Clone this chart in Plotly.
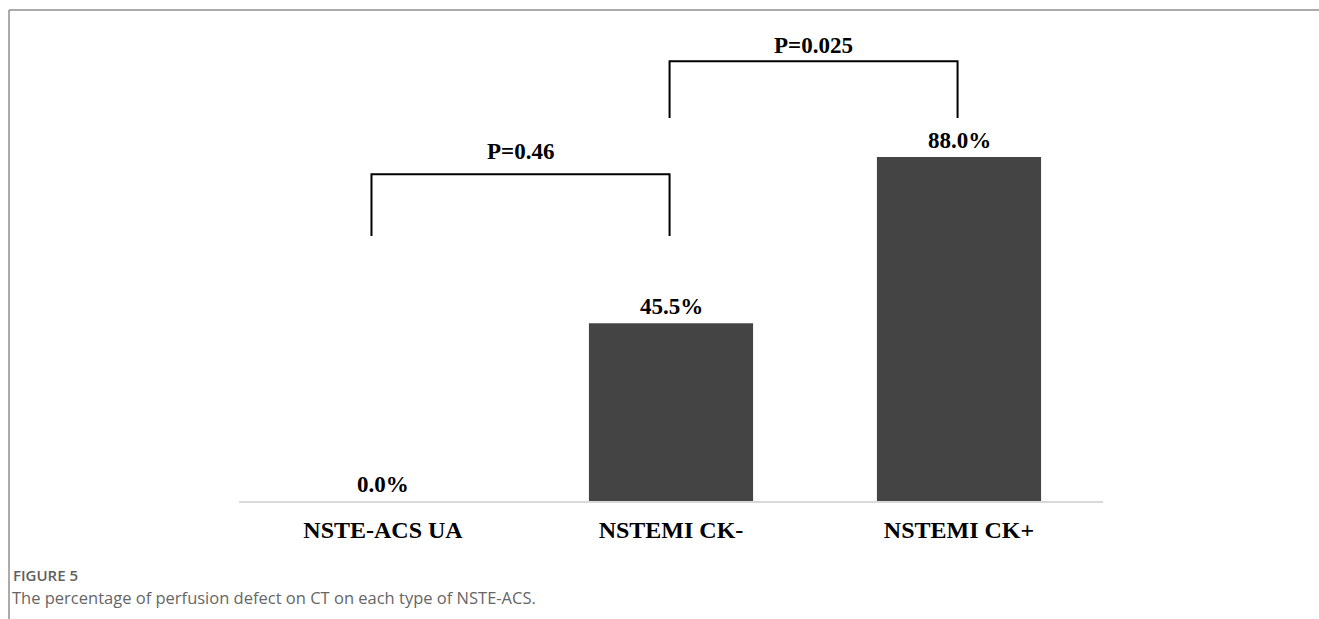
import plotly.graph_objects as go

# ---- data ----
categories = ["NSTE-ACS UA", "NSTEMI CK-", "NSTEMI CK+"]
values = [0.0, 45.5, 88.0]
value_labels = ["0.0%", "45.5%", "88.0%"]

# significance brackets: (left category index, right category index)
bracket_pairs = [(0, 1), (1, 2)]
bracket_texts = ["P=0.46", "P=0.025"]
bracket_top = [83.6, 112.5]
bracket_bottom = [67.8, 98.0]
bracket_text_y = [89.5, 116.6]

caption_label = "FIGURE 5"
caption_text = "The percentage of perfusion defect on CT on each type of NSTE-ACS."

# ---- layout constants ----
W, H = 1319, 619
SERIF = "Liberation Serif, Times New Roman, serif"
SANS = "Open Sans, Noto Sans, sans-serif"


def px_x(p):
    return p / W


def px_y(p):
    return (H - p) / H


x_index = list(range(len(categories)))

fig = go.Figure()
fig.add_trace(go.Bar(
    x=x_index,
    y=values,
    width=0.57,
    marker=dict(color="#444444", line=dict(width=0)),
    hoverinfo="skip",
    showlegend=False,
))

annotations = []
# value labels above bars
for i, (v, t) in enumerate(zip(values, value_labels)):
    annotations.append(dict(
        x=i, y=v, xref="x", yref="y", text=t, showarrow=False,
        yanchor="middle", yshift=17,
        font=dict(family=SERIF, size=23, color="#000000", weight=700),
    ))

shapes = []
for (a, b), txt, top, bot, ty in zip(bracket_pairs, bracket_texts, bracket_top,
                                      bracket_bottom, bracket_text_y):
    xa = a - 0.04 if a == 0 else a - 0.005
    xb = b - 0.005
    shapes.append(dict(
        type="path", xref="x", yref="y",
        path=f"M {xa},{bot} L {xa},{top} L {xb},{top} L {xb},{bot}",
        line=dict(color="#000000", width=2),
    ))
    annotations.append(dict(
        x=(xa + xb) / 2, y=ty, xref="x", yref="y", text=txt, showarrow=False,
        yanchor="middle",
        font=dict(family=SERIF, size=23, color="#000000", weight=700),
    ))

# frame lines (top and left)
shapes.append(dict(type="line", xref="paper", yref="paper",
                   x0=px_x(9), x1=1.0, y0=px_y(10), y1=px_y(10),
                   line=dict(color="#8f8f8f", width=1.5)))
shapes.append(dict(type="line", xref="paper", yref="paper",
                   x0=px_x(9), x1=px_x(9), y0=px_y(10), y1=0.0,
                   line=dict(color="#8f8f8f", width=1.5)))

# caption
annotations.append(dict(
    x=px_x(11), y=px_y(575), xref="paper", yref="paper", text=caption_label,
    showarrow=False, xanchor="left", yanchor="middle",
    font=dict(family=SANS, size=15, color="#606060", weight=600),
))
annotations.append(dict(
    x=px_x(10), y=px_y(597), xref="paper", yref="paper", text=caption_text,
    showarrow=False, xanchor="left", yanchor="middle",
    font=dict(family=SANS, size=16.5, color="#666666"),
))

fig.update_layout(
    width=W, height=H,
    margin=dict(l=0, r=0, t=0, b=0),
    paper_bgcolor="#ffffff",
    plot_bgcolor="#ffffff",
    xaxis=dict(
        domain=[px_x(239), px_x(1103)],
        range=[-0.5, 2.5],
        tickmode="array",
        tickvals=x_index,
        ticktext=categories,
        tickfont=dict(family=SERIF, size=24, color="#000000", weight=700),
        showline=True, linecolor="#d9d9d9", linewidth=2,
        showgrid=False, zeroline=False, ticks="",
        ticklabelstandoff=6,
        fixedrange=True,
    ),
    yaxis=dict(
        domain=[px_y(501), px_y(32)],
        range=[0, 120],
        showticklabels=False, showgrid=False, zeroline=False,
        showline=False, ticks="",
        fixedrange=True,
    ),
    shapes=shapes,
    annotations=annotations,
    bargap=0.43,
)

fig.write_html(
    "out.html",
    config={"displayModeBar": False},
    post_script="document.body.style.margin='0';document.body.style.overflow='hidden';",
)
